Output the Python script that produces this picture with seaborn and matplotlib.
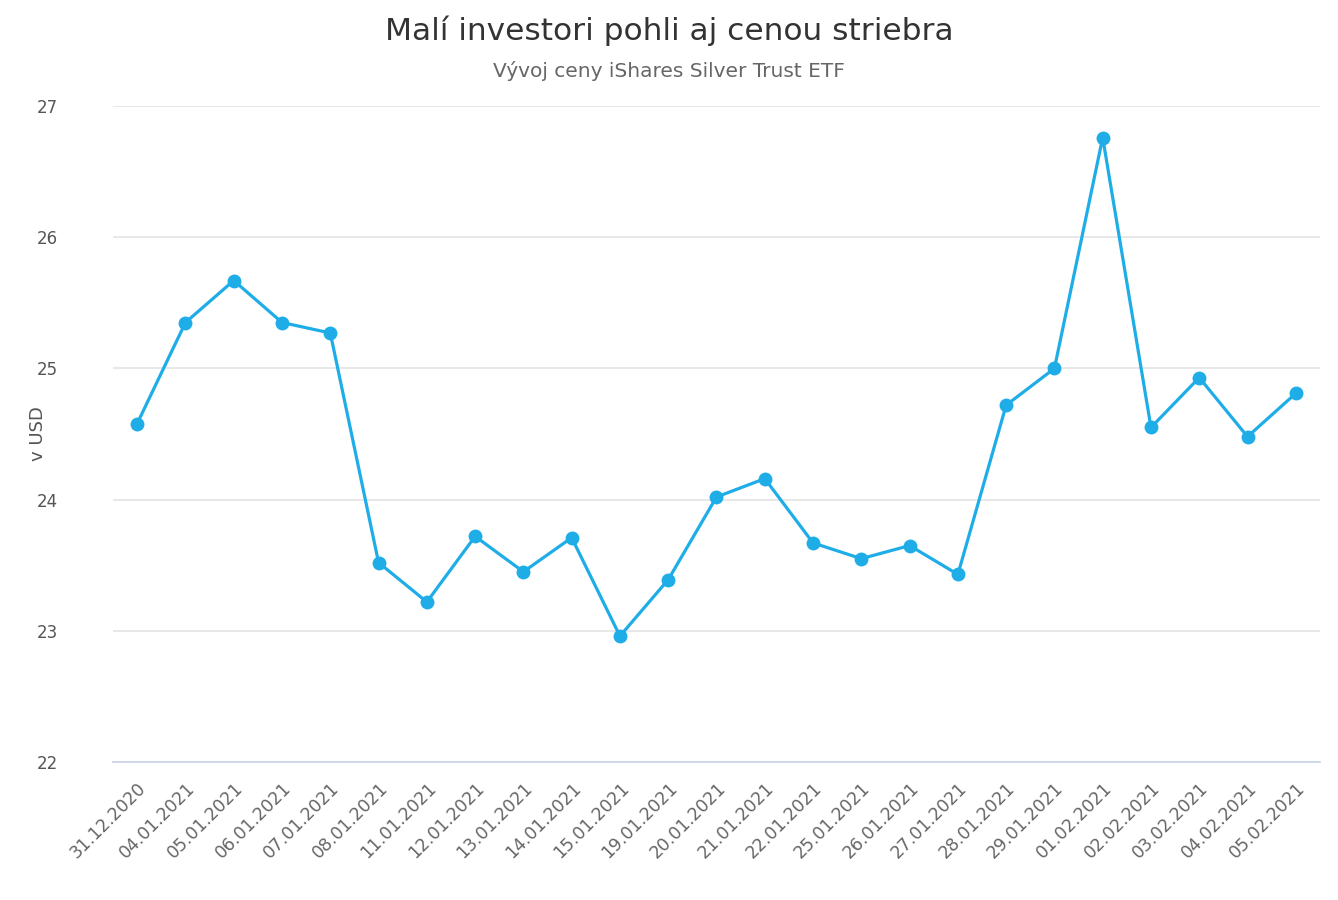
import pandas as pd
import matplotlib
matplotlib.use("Agg")
import matplotlib.pyplot as plt
import seaborn as sns

# data
dates = ["31.12.2020", "04.01.2021", "05.01.2021", "06.01.2021", "07.01.2021",
         "08.01.2021", "11.01.2021", "12.01.2021", "13.01.2021", "14.01.2021",
         "15.01.2021", "19.01.2021", "20.01.2021", "21.01.2021", "22.01.2021",
         "25.01.2021", "26.01.2021", "27.01.2021", "28.01.2021", "29.01.2021",
         "01.02.2021", "02.02.2021", "03.02.2021", "04.02.2021", "05.02.2021"]
prices = [24.58, 25.35, 25.67, 25.35, 25.27,
          23.52, 23.22, 23.72, 23.45, 23.71,
          22.96, 23.39, 24.02, 24.16, 23.67,
          23.55, 23.65, 23.43, 24.72, 25.00,
          26.76, 24.55, 24.93, 24.48, 24.81]
yticks = [22, 23, 24, 25, 26, 27]

df = pd.DataFrame({"date": dates, "price": prices})

sns.set_style("white")
plt.rcParams["font.family"] = ["DejaVu Sans"]

fig = plt.figure(figsize=(13.38, 9), dpi=100)
ax = fig.add_axes([0.0845, 0.1533, 0.902, 0.7289])

color = "#1fade8"
sns.lineplot(data=df, x="date", y="price", ax=ax, color=color, linewidth=2.3,
             marker="o", markersize=10, markeredgewidth=0, sort=False)

ax.set_xlim(-0.5, len(dates) - 0.5)
ax.set_ylim(22, 27)
ax.set_yticks(yticks)
ax.set_yticklabels([str(t) for t in yticks])
ax.yaxis.grid(True, color="#e6e6e6", linewidth=1.3)
ax.set_axisbelow(True)

for side in ["top", "right", "left"]:
    ax.spines[side].set_visible(False)
ax.spines["bottom"].set_color("#ccd6eb")
ax.spines["bottom"].set_linewidth(1.3)

ax.tick_params(axis="y", length=0, pad=55, labelsize=12)
plt.setp(ax.get_yticklabels(), ha="left", color="#555555")
ax.tick_params(axis="x", length=0, pad=12, labelsize=12.5, labelcolor="#666666")
plt.setp(ax.get_xticklabels(), rotation=45, ha="right", rotation_mode="anchor")

ax.set_xlabel("")
ax.set_ylabel("v USD", fontsize=13, color="#555555")
ax.yaxis.set_label_coords(-0.055, 0.5)

fig.text(0.5, 0.966, "Malí investori pohli aj cenou striebra", ha="center", va="center",
         fontsize=22.5, color="#333333")
fig.text(0.5, 0.921, "Vývoj ceny iShares Silver Trust ETF", ha="center", va="center",
         fontsize=14.5, color="#666666")

fig.savefig("out.png", dpi=100)
